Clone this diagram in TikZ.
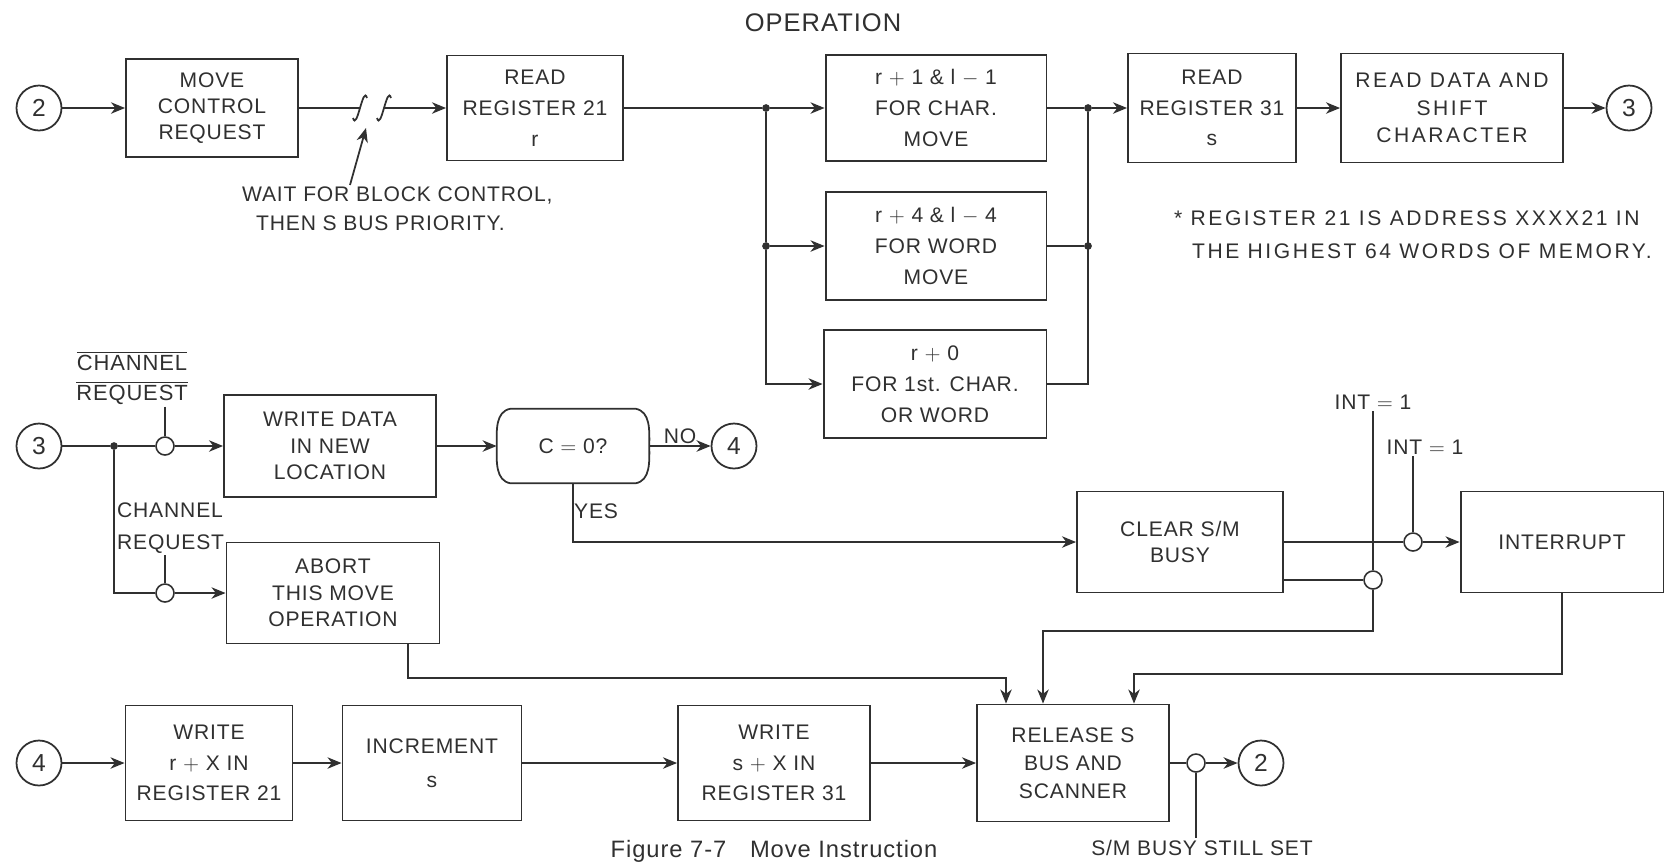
\documentclass[tikz,border=0pt]{standalone}
\usepackage{fontspec}
\setmainfont{Liberation Sans}[LetterSpace=4]
\newfontfamily\spacedfont[LetterSpace=12]{Liberation Sans}
\usepackage{tikz}
\usetikzlibrary{positioning,arrows.meta,calc}
\definecolor{ink}{HTML}{303030}
\tikzset{
  blk/.style  ={rectangle, draw=ink, line width=1.1pt, align=center, inner sep=2pt,
                text=ink, font=\fontsize{12}{15}\selectfont},
  blkw/.style ={blk, font=\fontsize{12}{17.5}\selectfont},
  conn/.style ={circle, draw=ink, line width=1pt, minimum size=9mm, inner sep=0pt,
                text=ink, font=\fontsize{14}{15}\selectfont},
  inv/.style  ={circle, draw=ink, line width=0.9pt, minimum size=3.6mm, inner sep=0pt},
  jdot/.style ={circle, fill=ink, minimum size=4.4pt, inner sep=0pt},
  note/.style ={inner sep=1pt, text=ink, font=\fontsize{12}{15}\selectfont},
  % plain line, and the same line ending in an arrow
  wire/.style ={draw=ink, line width=1pt},
  flow/.style ={wire, -{Stealth[length=8pt,width=6.5pt,inset=2.5pt]}},
}

\begin{document}
\begin{tikzpicture}[x=0.02cm,y=-0.02cm]
\useasboundingbox (0,0) rectangle (1669,867);
\node[note, font=\fontsize{14.5}{16}\selectfont] (title) at (823,23) {OPERATION};
% top row
\node[conn] (c2a) at (39,108) {2};
\node[blk, minimum width=3.44cm, minimum height=1.96cm] (move) at (212,108) {MOVE\\CONTROL\\REQUEST};
\node[blkw, minimum width=3.52cm, minimum height=2.1cm] (rd21) at (535,108) {READ\\REGISTER 21\\r};
\node[blkw, minimum width=4.42cm, minimum height=2.12cm] (mvchar) at (936,108) {r $+$ 1 \& l $-$ 1\\FOR CHAR.\\MOVE};
\node[blkw, minimum width=4.42cm, minimum height=2.16cm] (mvword) at (936,246) {r $+$ 4 \& l $-$ 4\\FOR WORD\\MOVE};
\node[blkw, minimum width=4.46cm, minimum height=2.16cm] (mvfirst) at (935,384) {r $+$ 0\\FOR 1st. CHAR.\\OR WORD};
\node[blkw, minimum width=3.36cm, minimum height=2.18cm] (rd31) at (1212,108) {READ\\REGISTER 31\\s};
\node[blk, font=\spacedfont\fontsize{12}{15.5}\selectfont, minimum width=4.44cm, minimum height=2.18cm] (rdsh) at (1452,108) {READ DATA AND\\SHIFT\\CHARACTER};
\node[conn] (c3a) at (1629,108) {3};
\foreach \n/\x/\y in {j1/766/108, j2/766/246, j3/1088/108, j4/1088/246, j5/114/446}
  {\node[jdot] (\n) at (\x,\y) {};}
\coordinate (w1) at (360,108);
\coordinate (w2) at (384,108);
\coordinate (wt) at (366,128);
\foreach \w in {w1,w2}
  {\draw[wire] ($(\w)+(-7,10)$) .. controls ($(\w)+(-3,24)$) and ($(\w)+(3,-24)$) .. ($(\w)+(7,-10)$);}
\node[note, align=left, anchor=north west, font=\fontsize{12}{16.5}\selectfont] (waitnote) at (240,185)
  {WAIT FOR BLOCK CONTROL,\\\hspace*{0.28cm}THEN S BUS PRIORITY.};
\node[note, align=left, anchor=north west, font=\spacedfont\fontsize{12}{18.5}\selectfont] (fnote) at (1172,209)
  {* REGISTER 21 IS ADDRESS XXXX21 IN\\\hspace*{0.36cm}THE HIGHEST 64 WORDS OF MEMORY.};
\draw[flow] (c2a) -- (move);
\draw[wire] (move) -- (w1);
\draw[flow] (w2) -- (rd21);
\draw[flow] ($(waitnote.north west)+(110,0)$) -- (wt);
\draw[wire] (rd21) -- (j1);
\draw[flow] (j1) -- (mvchar);
\draw[wire] (j1) -- (j2);
\draw[flow] (j2) -- (mvword);
\draw[flow] (j2) |- (mvfirst);
\draw[wire] (mvchar) -- (j3);
\draw[wire] (mvword) -- (j4);
\draw[wire] (mvfirst) -| (j3);
\draw[flow] (j3) -- (rd31);
\draw[flow] (rd31) -- (rdsh);
\draw[flow] (rdsh) -- (c3a);
% middle rows
\node[note, align=center, font=\fontsize{12.5}{17}\selectfont] (chbar) at (132,378)
  {$\overline{\mbox{CHANNEL}}$\\$\overline{\mbox{REQUEST}}$};
\node[conn] (c3b) at (39,446) {3};
\node[inv] (i1) at (165,446) {};
\node[blk, minimum width=4.24cm, minimum height=2.04cm] (wdat) at (330,446) {WRITE DATA\\IN NEW\\LOCATION};
\node[note, minimum width=3.04cm, minimum height=1.48cm] (dec) at (573,446) {C $=$ 0?};
\draw[wire] ([xshift=0.28cm]dec.north west) -- ([xshift=-0.28cm]dec.north east)
  to[out=-10,in=90] (dec.east) to[out=-90,in=10] ([xshift=-0.28cm]dec.south east)
  -- ([xshift=0.28cm]dec.south west) to[out=170,in=-90] (dec.west) to[out=90,in=190] cycle;
\node[conn] (c4a) at (734,446) {4};
\node[note, anchor=west] (yes) at (572,511) {YES};
\node[blk, minimum width=4.12cm, minimum height=2.02cm] (clr) at (1180,542) {CLEAR S/M\\BUSY};
\node[blk, minimum width=4.06cm, minimum height=2.02cm] (intr) at (1562,542) {INTERRUPT};
\node[inv] (i3) at (1413,542) {};
\node[inv] (i2) at (1373,580) {};
\node[note] (int1) at (1373,402) {INT $=$ 1};
\node[note] (int2) at (1425,447) {INT $=$ 1};
\node[note, align=left, anchor=west, font=\fontsize{12}{18}\selectfont] (chreq) at (115,528) {CHANNEL\\REQUEST};
\node[inv] (i4) at (165,593) {};
\node[blk, minimum width=4.26cm, minimum height=2.02cm] (abt) at (333,593) {ABORT\\THIS MOVE\\OPERATION};
\draw[wire] (c3b) -- (j5);
\draw[wire] (j5) -- (i1);
\draw[flow] (i1) -- (wdat);
\draw[wire] (chbar.south -| i1) -- (i1);
\draw[flow] (wdat) -- (dec);
\draw[flow] (dec) -- node[note, above] (no) {NO} (c4a);
\draw[flow] (dec.south) |- (clr);
\draw[wire] (j5) |- (i4);
\draw[flow] (i4) -- (abt);
\draw[wire] (chreq.south -| i4) -- (i4);
\draw[wire] (clr.east) -- (i3);
\draw[flow] (i3) -- (intr);
\draw[wire] (clr.east |- i2) -- (i2);
\draw[wire] (int1) -- (i2);
\draw[wire] (int2.south -| i3) -- (i3);
% bottom row
\node[conn] (c4b) at (39,763) {4};
\node[blkw, minimum width=3.34cm, minimum height=2.3cm] (w21) at (209,763) {WRITE\\r $+$ X IN\\REGISTER 21};
\node[blkw, minimum width=3.58cm, minimum height=2.3cm] (incr) at (432,763) {INCREMENT\\[2pt]s};
\node[blkw, minimum width=3.84cm, minimum height=2.3cm] (w31) at (774,763) {WRITE\\s $+$ X IN\\REGISTER 31};
\node[blk, font=\fontsize{12}{16}\selectfont, minimum width=3.84cm, minimum height=2.34cm] (rls) at (1073,763) {RELEASE S\\BUS AND\\SCANNER};
\node[inv] (i5) at (1196,763) {};
\node[conn] (c2b) at (1261,763) {2};
\node[note] (smb) at (1202,848) {S/M BUSY STILL SET};
\node[note, font=\fontsize{13.5}{15}\selectfont] (cap) at (774,851) {Figure 7-7\quad Move Instruction};
\coordinate (b1) at (1043,631);
\coordinate (b2) at (1134,674);
\coordinate (b3) at (1006,678);
\draw[flow] (i2) |- (b1) -- (b1 |- rls.north);
\draw[flow] (intr) |- (b2) -- (b2 |- rls.north);
\draw[flow] ([xshift=1.5cm]abt.south) |- (b3) -- (b3 |- rls.north);
\draw[flow] (c4b) -- (w21);
\draw[flow] (w21) -- (incr);
\draw[flow] (incr) -- (w31);
\draw[flow] (w31) -- (rls);
\draw[wire] (rls) -- (i5);
\draw[flow] (i5) -- (c2b);
\draw[wire] (i5) -- (smb.north -| i5);
\end{tikzpicture}
\end{document}
